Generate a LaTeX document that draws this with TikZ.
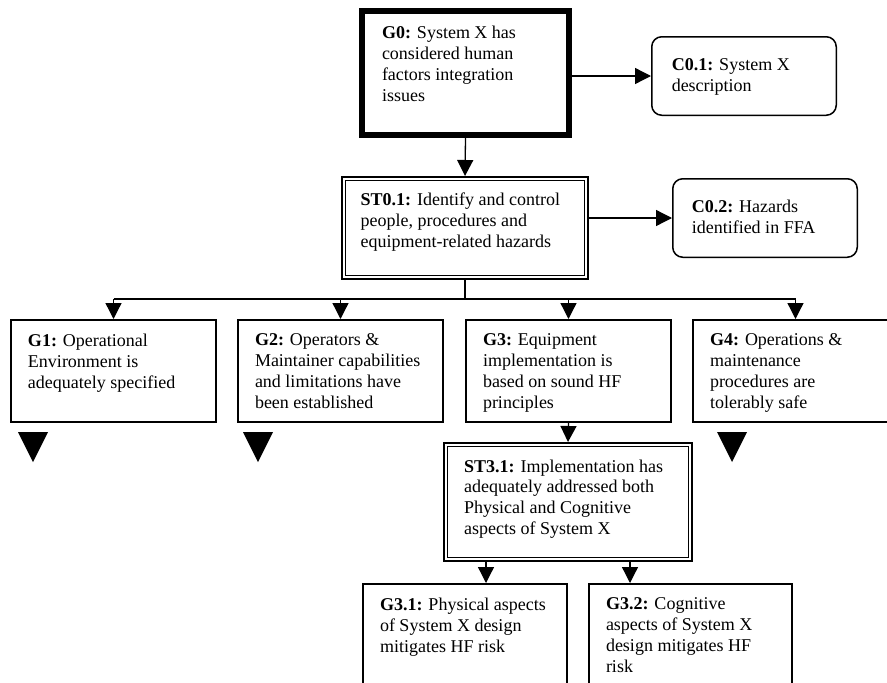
\documentclass[tikz,border=0pt]{standalone}
\usepackage{fontspec}
\setmainfont{Liberation Serif}
\usetikzlibrary{arrows.meta}

\newcommand{\gsnfont}{\fontsize{18}{20.8}\selectfont}
% box text: [left pad]{width}{height}{top pad}{text}
\newcommand{\gsnbody}[5][17pt]{\parbox[c][#3][t]{#2}{\vspace*{#4}\raggedright\leftskip=#1\relax #5}}

\begin{document}
\begin{tikzpicture}[x=1pt,y=-1pt,
  gsngoal/.style={draw, line width=2pt, inner sep=0pt, anchor=north west, font=\gsnfont},
  gsntop/.style={gsngoal, line width=6pt},
  gsnstrat/.style={gsngoal, line width=2.4pt},
  gsnctx/.style={gsngoal, line width=1.5pt, rounded corners=10pt},
  gsnarrow/.style={-{Triangle[length=16pt,width=16pt]}, line width=1.3pt}]
\clip (0,0) rectangle (887,683);

% goal G0 and its context
\node[gsntop] (g0) at (359,8) {\gsnbody[20pt]{207pt}{124pt}{15.5pt}{\textbf{G0:} System X has\\considered human\\factors integration\\issues}};
\node[gsnctx] (c01) at (651,36) {\gsnbody[20pt]{184.5pt}{78.5pt}{22pt}{\textbf{C0.1:} System X\\description}};

% strategy ST0.1 and its context
\node[gsnstrat] (st01) at (341,176) {\gsnbody[18.5pt]{245.6pt}{101.6pt}{16pt}{\textbf{ST0.1:} Identify and control\\people, procedures and\\equipment-related hazards}};
\node[gsnctx] (c02) at (672,178) {\gsnbody[19pt]{184.5pt}{78.5pt}{21pt}{\textbf{C0.2:} Hazards\\identified in FFA}};

% sub-goals
\node[gsngoal] (g1) at (10,319) {\gsnbody{205pt}{102pt}{14pt}{\textbf{G1:} Operational\\Environment is\\adequately specified}};
\node[gsngoal] (g2) at (237,319) {\gsnbody{205pt}{102pt}{14pt}{\textbf{G2:} Operators \&\\Maintainer capabilities\\and limitations have\\been established}};
\node[gsngoal] (g3) at (465,319) {\gsnbody{205pt}{102pt}{14pt}{\textbf{G3:} Equipment\\implementation is\\based on sound HF\\principles}};
\node[gsngoal] (g4) at (692,319) {\gsnbody{205pt}{102pt}{14pt}{\textbf{G4:} Operations \&\\maintenance\\procedures are\\tolerably safe}};

% strategy ST3.1 and its goals
\node[gsnstrat] (st31) at (443,442) {\gsnbody[20pt]{247.6pt}{117.6pt}{16.5pt}{\textbf{ST3.1:} Implementation has\\adequately addressed both\\Physical and Cognitive\\aspects of System X}};
\node[gsngoal] (g31) at (362,583) {\gsnbody{204pt}{130pt}{14pt}{\textbf{G3.1:} Physical aspects\\of System X design\\mitigates HF risk}};
\node[gsngoal] (g32) at (588,583) {\gsnbody{203pt}{130pt}{14pt}{\textbf{G3.2:} Cognitive\\aspects of System X\\design mitigates HF\\risk}};

% inner lines of the strategy boxes
\foreach \s in {st01,st31}
  \draw[line width=1.2pt] ([shift={(4.5,4.5)}]\s.north west) rectangle ([shift={(-4.5,-4.5)}]\s.south east);

% connectors
\coordinate (bus) at (465,299);
\coordinate (st31l) at (486,0);
\coordinate (st31r) at (630,0);
\draw[gsnarrow] (g0.south) -- (st01.north);
\draw[gsnarrow] (g0.east |- c01.west) -- (c01.west);
\draw[gsnarrow] (st01.east |- c02.west) -- (c02.west);
\draw[line width=1.3pt] (st01.south) -- (bus);
\draw[line width=1.3pt] (g1.north |- bus) -- (g4.north |- bus);
\foreach \g in {g1,g2,g3,g4}
  \draw[gsnarrow] (\g.north |- bus) -- (\g.north);
\draw[gsnarrow] (g3.south) -- (st31.north);
\draw[gsnarrow] (st31.south -| st31l) -- (g31.north -| st31l);
\draw[gsnarrow] (st31.south -| st31r) -- (g32.north -| st31r);

% undeveloped goals
\fill ([shift={(8,9)}]g1.south west) -- ++(30,0) -- ++(-15,30) -- cycle;
\fill ([shift={(6,9)}]g2.south west) -- ++(30,0) -- ++(-15,30) -- cycle;
\fill ([shift={(25,9)}]g4.south west) -- ++(30,0) -- ++(-15,30) -- cycle;

\end{tikzpicture}
\end{document}
